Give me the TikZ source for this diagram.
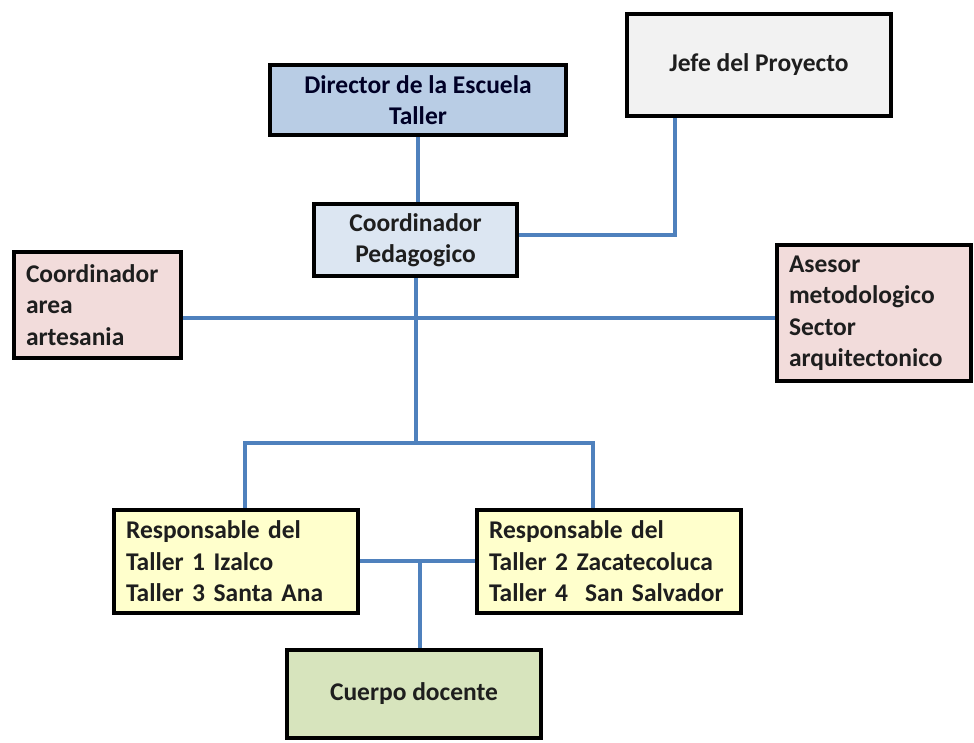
\documentclass[tikz,border=0pt]{standalone}
\usepackage{fontspec}
\setmainfont{Carlito}
\usetikzlibrary{positioning,backgrounds}
\definecolor{azullinea}{HTML}{4F81BD}
\definecolor{azuldir}{HTML}{B9CDE5}
\definecolor{grisjefe}{HTML}{F2F2F2}
\definecolor{azulcoord}{HTML}{DCE6F2}
\definecolor{rosa}{HTML}{F2DCDB}
\definecolor{amarillo}{HTML}{FFFFCC}
\definecolor{verde}{HTML}{D7E4BD}
\definecolor{texto}{HTML}{1E1E1E}

\begin{document}
\begin{tikzpicture}[x=1pt, y=-1pt,
    caja/.style={draw=black, line width=4.5pt, rectangle, inner xsep=12pt, inner ysep=0pt,
      text=texto, font=\fontsize{25.5}{31.5}\selectfont\bfseries},
    linea/.style={draw=azullinea, line width=3.6pt}]
    \useasboundingbox (0, 0) rectangle (974, 742);

    \node [caja, fill=azuldir, minimum width=296pt, minimum height=70pt, align=center, text=black!85!blue] (dir) at (418, 100) {Director de la Escuela\\Taller};
    \node [caja, fill=grisjefe, minimum width=264pt, minimum height=102pt, align=center] (jefe) at (759, 65) {Jefe del Proyecto};
    \node [caja, fill=azulcoord, minimum width=203pt, minimum height=72pt, align=center] (coord) at (415.5, 240) {Coordinador\\Pedagogico};
    \node [caja, fill=rosa, text width=143pt, minimum height=106pt, align=left] (artes) at (97.5, 305) {Coordinador\\area\\artesania};
    \node [caja, fill=rosa, text width=170pt, minimum height=136pt, align=left] (asesor) at (874, 313) {Asesor\\metodologico\\Sector\\arquitectonico};
    \node [caja, fill=amarillo, text width=220pt, minimum height=103pt, align=left] (resp1) at (236, 561.5) {Responsable del\\Taller 1 Izalco\\Taller 3 Santa Ana};
    \node [caja, fill=amarillo, text width=240pt, minimum height=103pt, align=left] (resp2) at (609, 561.5) {Responsable del\\Taller 2 Zacatecoluca\\Taller 4\ \ San Salvador};
    \node [caja, fill=verde, minimum width=254pt, minimum height=88pt, align=center] (docente) at (414, 694) {Cuerpo docente};

    \coordinate (cruce) at (416, 318);
    \coordinate (rama) at (416, 443);
    \coordinate (union) at (420, 561);

    \begin{scope}[on background layer]
    \draw [linea] (dir.south) -- (dir.south |- coord.north);
    \draw [linea] ([yshift=5pt]coord.east) -| ([xshift=-84pt]jefe.south);
    \draw [linea] (artes.east |- cruce) -- (asesor.west |- cruce);
    \draw [linea] (coord.south -| rama) -- (rama);
    \draw [linea] ([xshift=9pt]resp1.north) |- (rama) -| ([xshift=-16pt]resp2.north);
    \draw [linea] (resp1.east |- union) -- (resp2.west |- union);
    \draw [linea] (union) -- (union |- docente.north);
    \end{scope}
\end{tikzpicture}
\end{document}
